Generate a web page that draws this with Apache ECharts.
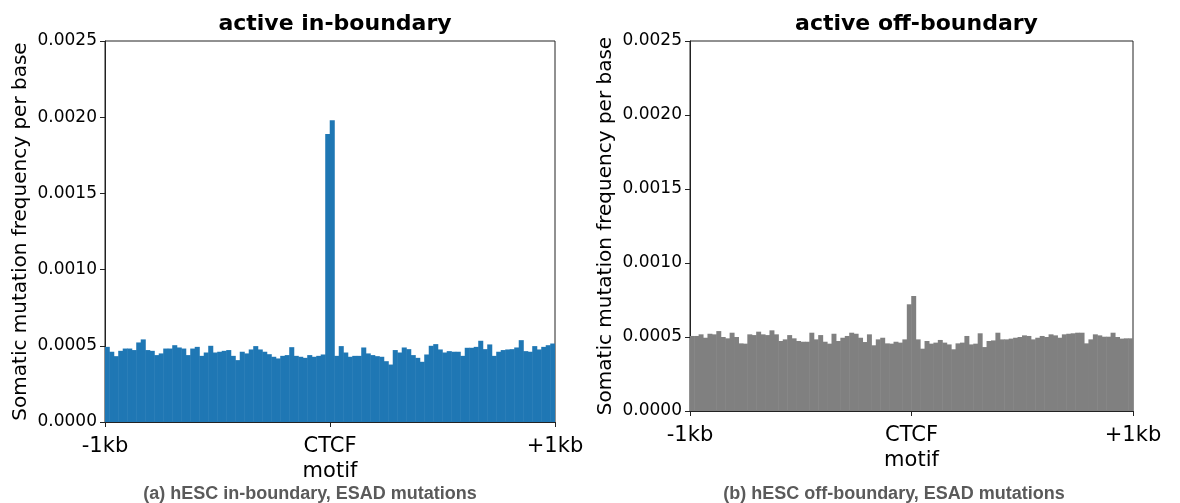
<!DOCTYPE html>
<html>
<head>
<meta charset="utf-8">
<script src="https://cdn.jsdelivr.net/npm/echarts@6/dist/echarts.min.js"></script>
<style>
html,body{margin:0;padding:0;background:#fff;}
#chart{width:1180px;height:503px;}
</style>
</head>
<body>
<div id="chart"></div>
<script>
// ---- data (20 bp bins, -1kb .. +1kb) ----
var panelTitles = ['active in-boundary', 'active off-boundary'];
var panelCaptions = ['(a) hESC in-boundary, ESAD mutations', '(b) hESC off-boundary, ESAD mutations'];
var yAxisTitle = 'Somatic mutation frequency per base';
var xTickLabels = {'-1000': '-1kb', '0': 'CTCF\nmotif', '1000': '+1kb'};
var yTicks = [0, 0.0005, 0.001, 0.0015, 0.002, 0.0025];

var inBoundary = [
0.000493,0.000461,0.000432,0.000467,0.000482,0.000482,0.000472,0.000522,0.000542,0.000472,
0.000467,0.000439,0.000450,0.000482,0.000482,0.000504,0.000489,0.000482,0.000439,0.000482,
0.000493,0.000434,0.000456,0.000500,0.000456,0.000461,0.000467,0.000472,0.000434,0.000406,
0.000461,0.000450,0.000476,0.000498,0.000476,0.000461,0.000445,0.000428,0.000417,0.000434,
0.000439,0.000491,0.000434,0.000428,0.000421,0.000439,0.000428,0.000434,0.000443,0.00189,
0.00198,0.000434,0.000498,0.000456,0.000428,0.000434,0.000434,0.000489,0.000450,0.000439,
0.000432,0.000428,0.000399,0.000377,0.000472,0.000456,0.000489,0.000478,0.000439,0.000421,
0.000395,0.000443,0.000500,0.000511,0.000476,0.000456,0.000465,0.000461,0.000461,0.000434,
0.000487,0.000487,0.000493,0.000533,0.000478,0.000509,0.000434,0.000461,0.000472,0.000476,
0.000478,0.000489,0.000537,0.000465,0.000461,0.000498,0.000476,0.000493,0.000504,0.000515
];
var offBoundary = [
0.000507,0.000507,0.000518,0.000495,0.000522,0.000518,0.000540,0.000500,0.000491,0.000529,
0.000500,0.000457,0.000455,0.000518,0.000513,0.000536,0.000518,0.000513,0.000545,0.000518,
0.000473,0.000484,0.000513,0.000491,0.000473,0.000468,0.000468,0.000529,0.000484,0.000513,
0.000468,0.000455,0.000522,0.000473,0.000495,0.000507,0.000529,0.000522,0.000495,0.000466,
0.000518,0.000444,0.000484,0.000495,0.000457,0.000455,0.000468,0.000462,0.000484,0.000721,
0.000777,0.000484,0.000421,0.000473,0.000455,0.000462,0.000480,0.000462,0.000450,0.000417,
0.000457,0.000462,0.000507,0.000450,0.000455,0.000525,0.000432,0.000473,0.000477,0.000529,
0.000484,0.000484,0.000489,0.000495,0.000500,0.000511,0.000507,0.000484,0.000495,0.000507,
0.000500,0.000518,0.000511,0.000495,0.000518,0.000522,0.000525,0.000529,0.000529,0.000457,
0.000484,0.000518,0.000511,0.000502,0.000502,0.000529,0.000500,0.000489,0.000491,0.000491
];
var barColors = ['#1f77b4', '#808080'];

// bin centres (bp) used only as category keys
var bins = [];
for (var b = 0; b < inBoundary.length; b++) { bins.push(String(-990 + 20 * b)); }

var grids = [
  {left: 105, top: 41, width: 450, height: 381, caption: 310},
  {left: 690, top: 41, width: 443, height: 370, caption: 894}
];
var FONT = 'DejaVu Sans';
var AX = '#222';

var option = {
  animation: false,
  backgroundColor: '#fff',
  title: [0, 1].map(function (i) {
    return {
      text: panelTitles[i],
      left: grids[i].left + grids[i].width / 2,
      top: 8,
      textAlign: 'center',
      textStyle: {fontFamily: FONT, fontWeight: 'bold', fontSize: 22, color: '#000'}
    };
  }),
  grid: grids.map(function (g) {
    return {left: g.left, top: g.top, width: g.width, height: g.height,
      show: true, borderColor: AX, borderWidth: 1, backgroundColor: 'transparent'};
  }),
  xAxis: [],
  yAxis: [],
  series: [],
  graphic: [0, 1].map(function (i) {
    return {
      type: 'text',
      style: {
        text: panelCaptions[i],
        x: grids[i].caption,
        y: 494,
        align: 'center',
        verticalAlign: 'middle',
        fontFamily: '"Liberation Sans", Arial, sans-serif',
        fontWeight: 'bold',
        fontSize: 18,
        fill: '#5a5a5a'
      }
    };
  })
};

var seriesData = [inBoundary, offBoundary];
[0, 1].forEach(function (i) {
  // hidden category axis carrying the bars
  option.xAxis.push({
    type: 'category', gridIndex: i, data: bins, boundaryGap: true, show: false
  });
  // visible value axis for tick labels
  option.xAxis.push({
    type: 'value', gridIndex: i, position: 'bottom', min: -1000, max: 1000, interval: 1000,
    axisLine: {show: true, onZero: false, lineStyle: {color: AX, width: 1}},
    axisTick: {show: true, length: 5, lineStyle: {color: AX}},
    splitLine: {show: false},
    axisLabel: {
      fontFamily: FONT, fontSize: 21, color: '#000', margin: 12, lineHeight: 25,
      formatter: function (v) { return xTickLabels[String(v)] || ''; }
    }
  });
  option.yAxis.push({
    type: 'value', gridIndex: i, min: yTicks[0], max: yTicks[yTicks.length - 1], interval: 0.0005,
    name: yAxisTitle, nameLocation: 'middle', nameGap: 74, nameRotate: 90,
    nameTextStyle: {fontFamily: FONT, fontSize: 20, color: '#000'},
    axisLine: {show: true, onZero: false, lineStyle: {color: AX, width: 1}},
    axisTick: {show: true, length: 5, lineStyle: {color: AX}},
    splitLine: {show: false},
    axisLabel: {
      fontFamily: FONT, fontSize: 17, color: '#000', margin: 8,
      formatter: function (v) { return v.toFixed(4); }
    }
  });
  option.series.push({
    type: 'bar', xAxisIndex: i * 2, yAxisIndex: i,
    data: seriesData[i], barWidth: '112%', barGap: '-100%',
    itemStyle: {color: barColors[i]}
  });
});

var chart = echarts.init(document.getElementById('chart'), null, {renderer: 'canvas'});
chart.setOption(option);
</script>
</body>
</html>
